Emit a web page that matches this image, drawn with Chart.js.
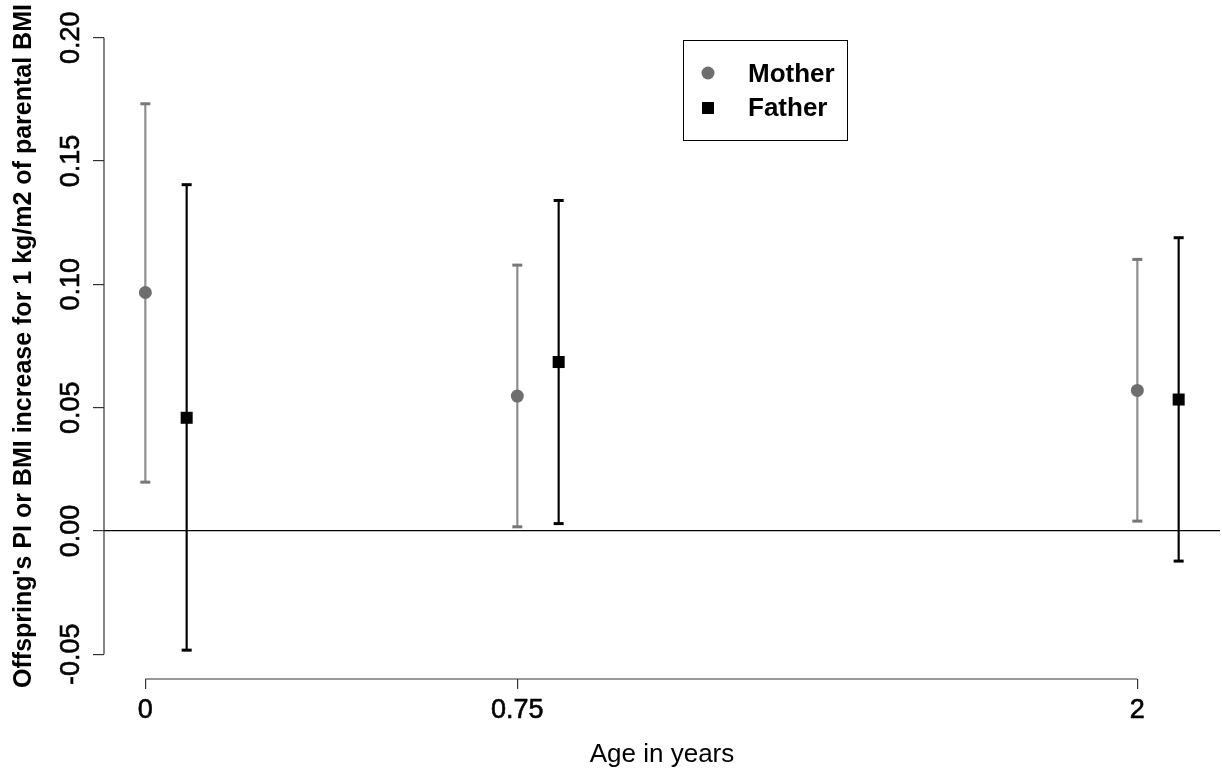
<!DOCTYPE html>
<html>
<head>
<meta charset="utf-8">
<script src="https://cdn.jsdelivr.net/npm/chart.js@4"></script>
<style>
  html, body { margin: 0; padding: 0; background: #fff; }
  #wrap { width: 1222px; height: 778px; }
</style>
</head>
<body>
<div id="wrap"><canvas id="chart" width="1222" height="778"></canvas></div>
<script>
// values
const ages = [0, 0.75, 2];
const ageLabels = ['0', '0.75', '2'];
const motherEst = [0.0967, 0.0547, 0.0570];
const motherLow = [0.0198, 0.0017, 0.0040];
const motherHigh = [0.1732, 0.1078, 0.1101];
const fatherEst = [0.0459, 0.0685, 0.0533];
const fatherLow = [-0.0483, 0.0030, -0.0122];
const fatherHigh = [0.1404, 0.1340, 0.1189];
const yTicks = [-0.05, 0, 0.05, 0.10, 0.15, 0.20];

const FONT = '"Liberation Sans", Arial, sans-serif';
const shift = 1 / 12;   // father drawn a little to the right of each age
const motherCol = '#6e6e6e';
const fatherCol = '#000000';

function pts(vals, dx) {
  return ages.map((a, i) => ({ x: a + dx, y: vals[i] }));
}
function bars(lo, hi, dx) {
  return ages.map((a, i) => ({ x: a + dx, y: [lo[i], hi[i]] }));
}

// R style axis lines (only between first and last tick) + rotated y labels + legend box
const rStyle = {
  id: 'rStyle',
  afterDraw(chart) {
    const ctx = chart.ctx;
    const xs = chart.scales.x, ys = chart.scales.y;
    const area = chart.chartArea;
    ctx.save();
    ctx.strokeStyle = '#333';
    ctx.lineWidth = 1.2;
    ctx.beginPath();
    ctx.moveTo(area.left, ys.getPixelForValue(yTicks[0]));
    ctx.lineTo(area.left, ys.getPixelForValue(yTicks[yTicks.length - 1]));
    ctx.moveTo(xs.getPixelForValue(ages[0]), area.bottom);
    ctx.lineTo(xs.getPixelForValue(ages[ages.length - 1]), area.bottom);
    ctx.stroke();

    // y tick labels, read bottom to top
    ctx.fillStyle = '#000';
    ctx.strokeStyle = '#000';
    ctx.lineWidth = 0.6;
    ctx.font = '27px ' + FONT;
    ctx.textAlign = 'center';
    ctx.textBaseline = 'alphabetic';
    yTicks.forEach(v => {
      ctx.save();
      ctx.translate(area.left - 25, ys.getPixelForValue(v));
      ctx.rotate(-Math.PI / 2);
      ctx.fillText(v.toFixed(2), 0, 0);
      ctx.strokeText(v.toFixed(2), 0, 0);
      ctx.restore();
    });

    // legend
    const bx = 683, by = 40, bw = 164, bh = 100;
    ctx.strokeStyle = '#000';
    ctx.lineWidth = 1;
    ctx.strokeRect(bx + 0.5, by + 0.5, bw, bh);
    const ds = chart.data.datasets;
    ctx.fillStyle = motherCol;
    ctx.beginPath();
    ctx.arc(bx + 25, by + 33, 6.5, 0, Math.PI * 2);
    ctx.fill();
    ctx.fillStyle = fatherCol;
    ctx.fillRect(bx + 19, by + 62, 12, 12);
    ctx.fillStyle = '#000';
    ctx.font = 'bold 26px ' + FONT;
    ctx.textAlign = 'left';
    ctx.textBaseline = 'middle';
    ctx.fillText(ds[4].label, bx + 65, by + 35);
    ctx.fillText(ds[5].label, bx + 65, by + 69);
    ctx.restore();
  }
};

new Chart(document.getElementById('chart'), {
  type: 'scatter',
  data: {
    datasets: [
      { type: 'bar', label: 'mother ci', data: bars(motherLow, motherHigh, 0),
        backgroundColor: '#8c8c8c', barThickness: 1.5, grouped: false, order: 6 },
      { type: 'bar', label: 'father ci', data: bars(fatherLow, fatherHigh, shift),
        backgroundColor: fatherCol, barThickness: 1.5, grouped: false, order: 5 },
      { label: 'mother caps', data: pts(motherLow, 0).concat(pts(motherHigh, 0)),
        pointStyle: 'line', pointRadius: 5, borderWidth: 3, borderColor: '#777', order: 4 },
      { label: 'father caps', data: pts(fatherLow, shift).concat(pts(fatherHigh, shift)),
        pointStyle: 'line', pointRadius: 5, borderWidth: 3, borderColor: fatherCol, order: 3 },
      { label: 'Mother', data: pts(motherEst, 0), pointStyle: 'circle', pointRadius: 6.5,
        backgroundColor: motherCol, borderWidth: 0, order: 2 },
      { label: 'Father', data: pts(fatherEst, shift), pointStyle: 'rect', pointRadius: 8.5,
        backgroundColor: fatherCol, borderWidth: 0, order: 1 }
    ]
  },
  options: {
    responsive: false,
    animation: false,
    devicePixelRatio: 1,
    layout: { autoPadding: false, padding: { top: 13, right: 2, left: 0, bottom: 0 } },
    plugins: { legend: { display: false }, tooltip: { enabled: false } },
    scales: {
      x: {
        type: 'linear',
        offset: false,
        min: -1 / 12,
        max: 2 + 1 / 6,
        afterBuildTicks: s => { s.ticks = ages.map(v => ({ value: v })); },
        afterFit: s => { s.height = 99; },
        border: { display: false },
        grid: { offset: false, drawOnChartArea: false, tickLength: 10, tickColor: '#333', lineWidth: 1.2 },
        ticks: {
          color: '#000', font: { family: FONT, size: 27 }, padding: 5, maxRotation: 0,
          textStrokeColor: '#000', textStrokeWidth: 0.6,
          callback: (v, i) => ageLabels[i]
        },
        title: {
          display: true, text: 'Age in years', color: '#000',
          font: { family: FONT, size: 26 }, padding: { top: 0, bottom: 8 }
        }
      },
      y: {
        min: -0.06,
        max: 0.21,
        afterBuildTicks: s => { s.ticks = yTicks.map(v => ({ value: v })); },
        afterFit: s => { s.width = 104; },
        border: { display: false },
        grid: {
          drawOnChartArea: true, tickLength: 11, tickColor: '#333', lineWidth: 1.2,
          color: c => (c.tick && c.tick.value === 0) ? '#000' : 'rgba(0,0,0,0)'
        },
        ticks: { display: false },
        title: {
          display: true, text: "Offspring's PI or BMI increase for 1 kg/m2 of parental BMI",
          color: '#000', font: { family: FONT, size: 25, weight: 'bold' },
          padding: { top: 9, bottom: 0 }
        }
      }
    }
  },
  plugins: [rStyle]
});
</script>
</body>
</html>
